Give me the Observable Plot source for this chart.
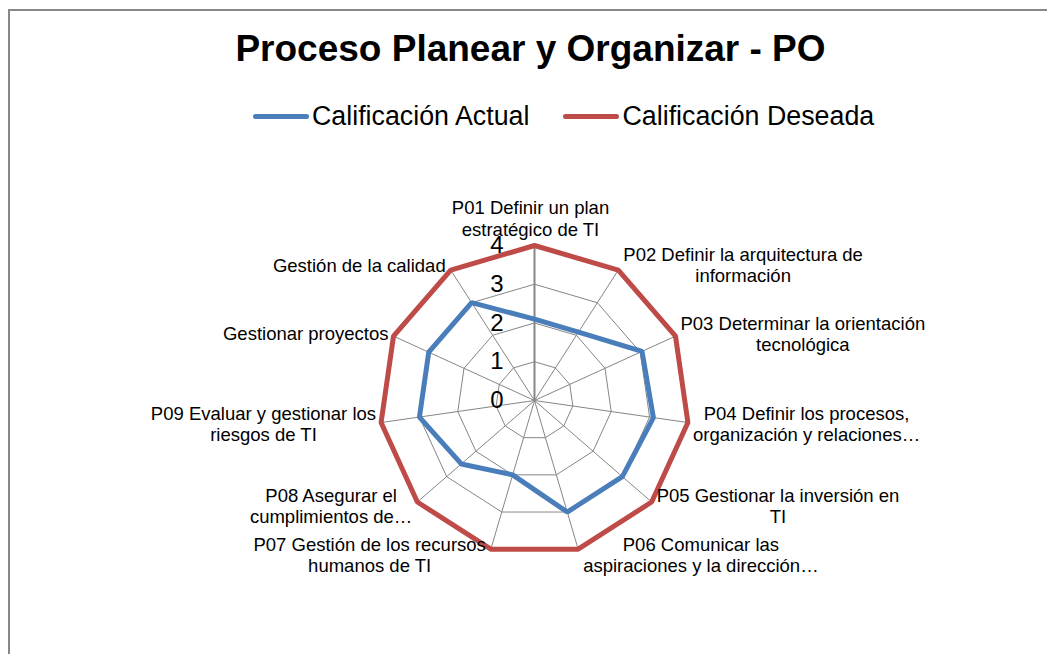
<!DOCTYPE html>
<html>
<head>
<meta charset="utf-8">
<script src="https://cdn.jsdelivr.net/npm/d3@7"></script>
<script src="https://cdn.jsdelivr.net/npm/@observablehq/plot@0.6"></script>
<style>
  html, body { margin: 0; padding: 0; background: #fff; overflow: hidden; }
  body { font-family: "Liberation Sans", Arial, sans-serif; color: #000; width: 1047px; height: 654px; position: relative; }
  #frame { position: absolute; left: 8px; top: 9px; width: 1100px; height: 700px;
           border-top: 2px solid #878787; border-left: 2px solid #878787; }
  #title { position: absolute; left: 0; top: 27px; width: 1061px; text-align: center;
           font-weight: bold; font-size: 37px; line-height: 44px; white-space: nowrap; }
  #legend { position: absolute; left: 253px; top: 99px; height: 34px; display: flex; align-items: center;
            font-size: 26.8px; white-space: nowrap; }
  .item { display: flex; align-items: center; margin-right: 34px; }
  .swatch { width: 56px; height: 5px; border-radius: 2.5px; margin-right: 3px; }
  #chart { position: absolute; left: 0; top: 150px; }
</style>
</head>
<body>
<div id="frame"></div>
<div id="title">Proceso Planear y Organizar - PO</div>
<div id="legend"></div>
<div id="chart"></div>
<script>
// ---- data ----
const categories = [
  "P01 Definir un plan\nestratégico de TI",
  "P02 Definir la arquitectura de\ninformación",
  "P03 Determinar la orientación\ntecnológica",
  "P04 Definir los procesos,\norganización y relaciones…",
  "P05 Gestionar la inversión en\nTI",
  "P06 Comunicar las\naspiraciones y la dirección…",
  "P07 Gestión de los recursos\nhumanos de TI",
  "P08 Asegurar el\ncumplimientos de…",
  "P09 Evaluar y gestionar los\nriesgos de TI",
  "Gestionar proyectos",
  "Gestión de la calidad"
];
const actual  = [2.1, 2.1, 3.05, 3.1, 3.0, 3.0, 2.0, 2.5, 3.0, 3.0, 3.0];
const deseada = [4, 4, 4, 4, 4, 4, 4, 4, 4, 4, 4];
const ticks = [0, 1, 2, 3, 4];
const seriesNames = ["Calificación Actual", "Calificación Deseada"];
const seriesColors = ["#4A7EBB", "#BE4B48"];

// ---- layout ----
const W = 1047, H = 504, CX = 534, CY = 250, R = 155;
const MAX = d3.max(ticks);
const k = R / MAX;                 // pixels per unit
const n = categories.length;
const ang = i => 2 * Math.PI * i / n;
const px = (i, v) => v * Math.sin(ang(i));
const py = (i, v) => v * Math.cos(ang(i));

// legend (HTML)
const legend = document.getElementById("legend");
seriesNames.forEach((s, j) => {
  const it = document.createElement("div"); it.className = "item";
  const sw = document.createElement("div"); sw.className = "swatch"; sw.style.background = seriesColors[j];
  const tx = document.createElement("span"); tx.textContent = s;
  it.appendChild(sw); it.appendChild(tx); legend.appendChild(it);
});

// grid rings
const ringRows = [];
ticks.filter(t => t > 0).forEach(t => {
  for (let i = 0; i <= n; i++) ringRows.push({t, i: i % n});
});
// series rows (closed)
const seriesRows = [];
[[seriesNames[1], deseada], [seriesNames[0], actual]].forEach(([name, vals]) => {
  for (let i = 0; i <= n; i++) seriesRows.push({series: name, i: i % n, v: vals[i % n]});
});

// category label placement
const FS = 18.5, LH = 1.15;
const ctx = document.createElement("canvas").getContext("2d");
ctx.font = `${FS}px "Liberation Sans", Arial, sans-serif`;
const labelRows = categories.map((c, i) => {
  const lines = c.split("\n");
  const w = d3.max(lines, l => ctx.measureText(l).width);
  const h = lines.length * FS * LH;
  const s = Math.sin(ang(i)), co = Math.cos(ang(i));
  const vx = px(i, MAX) * k, vy = -py(i, MAX) * k; // pixel offsets from centre, y down
  let cx, cy;
  if (Math.abs(s) < 0.1) { cx = vx - 4; cy = vy - h / 2 - 6; }
  else { cx = vx + Math.sign(s) * (5 + w / 2); cy = vy - 6 * co; }
  return {text: c, x: cx / k, y: -cy / k};
});

const chart = Plot.plot({
  width: W, height: H,
  margin: 0,
  style: {fontFamily: '"Liberation Sans", Arial, sans-serif', color: "#000", background: "transparent", overflow: "visible"},
  x: {domain: [-CX / k, (W - CX) / k], range: [0, W], axis: null},
  y: {domain: [-(H - CY) / k, CY / k], range: [H, 0], axis: null},
  color: {domain: seriesNames, range: seriesColors},
  marks: [
    Plot.link(d3.range(1, n), {x1: () => 0, y1: () => 0, x2: i => px(i, MAX), y2: i => py(i, MAX), stroke: "#868686", strokeWidth: 1}),
    Plot.line(ringRows, {x: d => px(d.i, d.t), y: d => py(d.i, d.t), z: "t", stroke: "#868686", strokeWidth: 1}),
    Plot.link([0], {x1: () => 0, y1: () => 0, x2: i => px(i, MAX), y2: i => py(i, MAX), stroke: "#868686", strokeWidth: 2}),
    Plot.line(seriesRows, {x: d => px(d.i, d.v), y: d => py(d.i, d.v), z: "series", stroke: "series", strokeWidth: 5, strokeLinejoin: "miter", curve: "linear"}),
    Plot.text(ticks, {x: () => 0, y: t => py(0, t), text: t => String(t), textAnchor: "end", dx: -31, fontSize: 24, fill: "#000"}),
    Plot.text(labelRows, {x: "x", y: "y", text: "text", textAnchor: "middle", lineAnchor: "middle", lineHeight: LH, fontSize: FS, fill: "#000"})
  ]
});
document.getElementById("chart").appendChild(chart);
</script>
</body>
</html>
